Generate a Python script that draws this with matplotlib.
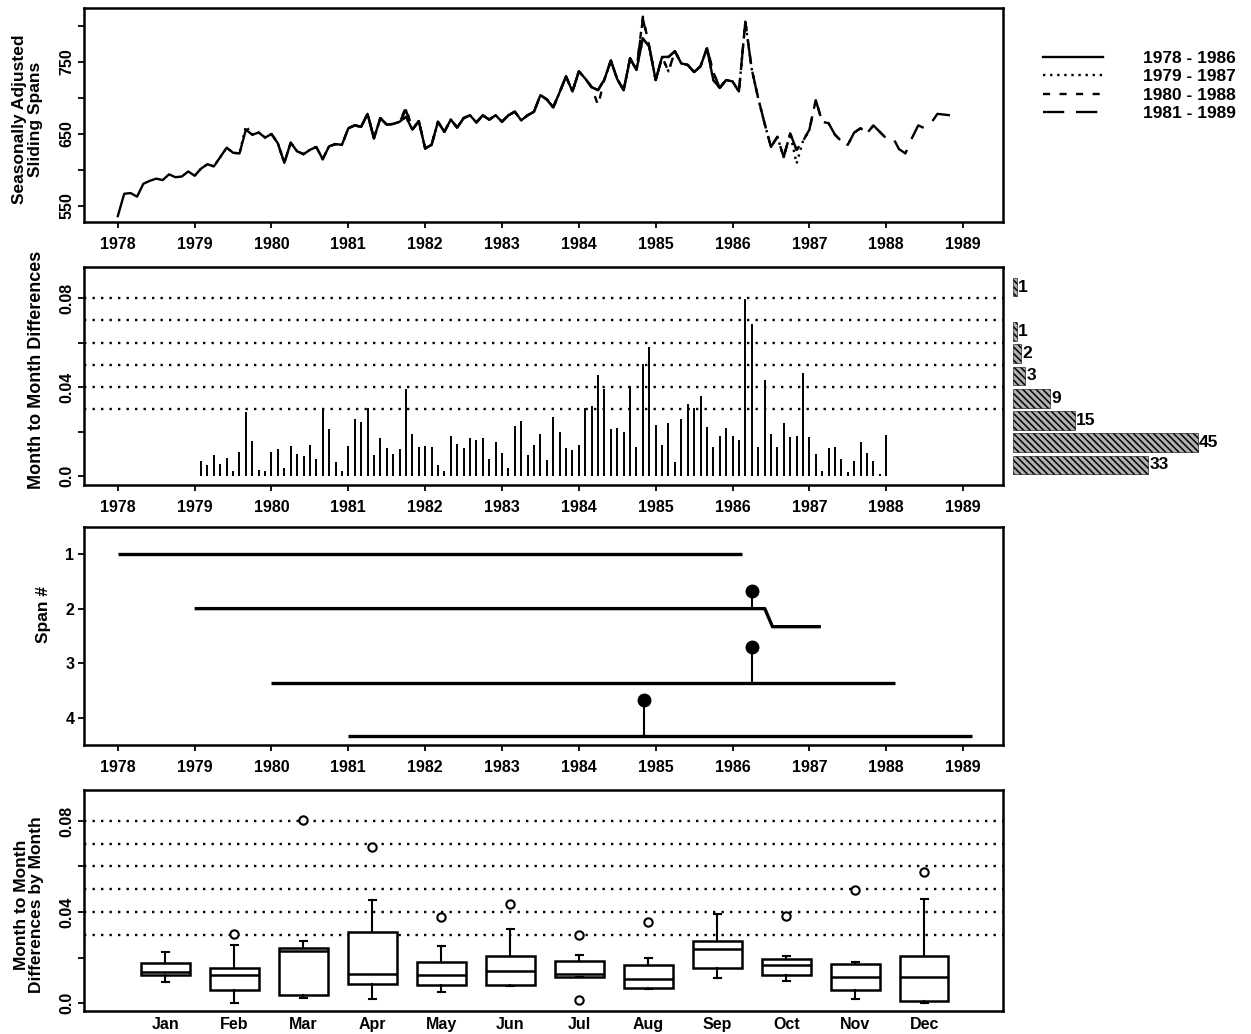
import matplotlib.pyplot as plt
import numpy as np

plt.rcParams['font.family'] = ['Liberation Sans', 'DejaVu Sans']
plt.rcParams['font.weight'] = 'bold'
plt.rcParams['axes.labelweight'] = 'bold'
plt.rcParams['font.size'] = 11.5
plt.rcParams['hatch.linewidth'] = 1.1

# Seasonally adjusted series, monthly from Jan 1978
sa_level = [
    536, 567, 568, 563, 581, 585, 588, 586, 594, 590, 591, 598,   # 1978
    592, 602, 608, 605, 618, 631, 624, 623, 656, 649, 652, 645,   # 1979
    650, 637, 610, 638, 626, 622, 628, 632, 615, 633, 636, 635,   # 1980
    658, 662, 660, 678, 644, 672, 663, 664, 667, 674, 656, 668,   # 1981
    630, 635, 667, 653, 670, 659, 672, 676, 666, 676, 670, 676,   # 1982
    667, 676, 681, 669, 676, 681, 704, 698, 687, 708, 730, 709,   # 1983
    737, 727, 715, 711, 726, 752, 726, 711, 755, 739, 783, 771,   # 1984
    725, 757, 757, 765, 748, 746, 736, 744, 769, 725, 714, 725,   # 1985
    723, 709, 806, 740, 700, 665, 632, 646, 618, 651, 628, 640,   # 1986
    656, 697, 667, 665, 649, 640, 635, 652, 658, 651, 662, 653,   # 1987
    644, 646, 629, 623, 644, 662, 658, 665, 678, 677, 676, 668,   # 1988
]

# the four sliding spans (month index into sa_level) and where they differ
span_labels = ['1978 - 1986', '1979 - 1987', '1980 - 1988', '1981 - 1989']
span_first = [0, 12, 24, 36]
span_last = [96, 108, 120, 131]
span_overrides = [
    {},
    {20: 661, 86: 737, 106: 609},
    {45: 687, 75: 690, 82: 813, 86: 737, 93: 736},
    {45: 683, 82: 810, 93: 736},
]
span_styles = ['-', (0, (1, 2)), (0, (3, 4)), (0, (9, 5))]

# maximum month to month differences, Feb 1979 - Jan 1988
mm_diff = [
    0.0066, 0.0048, 0.0094, 0.0054, 0.0081, 0.0021, 0.0110, 0.0290, 0.0158, 0.0028, 0.0024,
    0.0110, 0.0122, 0.0036, 0.0136, 0.0099, 0.0090, 0.0140, 0.0078, 0.0301, 0.0212, 0.0063, 0.0024,
    0.0136, 0.0257, 0.0245, 0.0307, 0.0096, 0.0170, 0.0128, 0.0099, 0.0122, 0.0390, 0.0190, 0.0133,
    0.0136, 0.0133, 0.0048, 0.0024, 0.0182, 0.0145, 0.0125, 0.0173, 0.0163, 0.0173, 0.0078, 0.0152,
    0.0103, 0.0036, 0.0227, 0.0248, 0.0096, 0.0139, 0.0188, 0.0073, 0.0264, 0.0200, 0.0125, 0.0118,
    0.0140, 0.0307, 0.0316, 0.0454, 0.0390, 0.0210, 0.0218, 0.0200, 0.0404, 0.0129, 0.0503, 0.0582,
    0.0228, 0.0141, 0.0240, 0.0062, 0.0255, 0.0325, 0.0307, 0.0359, 0.0221, 0.0129, 0.0181, 0.0218,
    0.0181, 0.0162, 0.0797, 0.0685, 0.0129, 0.0433, 0.0188, 0.0132, 0.0240, 0.0177, 0.0181, 0.0463,
    0.0175, 0.0099, 0.0025, 0.0126, 0.0132, 0.0077, 0.0018, 0.0070, 0.0154, 0.0104, 0.0070, 0.0010,
    0.0184,
]
ref_levels = [0.03, 0.04, 0.05, 0.06, 0.07, 0.08]

# histogram of the differences, bins of width 0.01 starting at 0
hist_counts = [33, 45, 15, 9, 3, 2, 1, 0, 1]

# span lines and flagged months for the span panel
span_bar_x = [[1978.0, 1986.12], [1979.0, 1986.42, 1986.52, 1987.15],
              [1980.0, 1988.12], [1981.0, 1989.12]]
span_bar_y = [[1, 1], [2, 2, 2.33, 2.33], [3.35, 3.35], [4.33, 4.33]]
flag_x = [1986.25, 1986.25, 1984.85]
flag_base = [2.0, 3.35, 4.33]
flag_top = [1.67, 2.7, 3.67]

# differences grouped by calendar month
month_names = ['Jan', 'Feb', 'Mar', 'Apr', 'May', 'Jun',
               'Jul', 'Aug', 'Sep', 'Oct', 'Nov', 'Dec']
box_med = [0.0136, 0.0122, 0.0229, 0.0129, 0.0122, 0.0139, 0.0126, 0.0107, 0.0239, 0.0166, 0.0114, 0.0114]
box_q1 = [0.0125, 0.0056, 0.0037, 0.0085, 0.0081, 0.0081, 0.0114, 0.0066, 0.0154, 0.0122, 0.0056, 0.0009]
box_q3 = [0.0176, 0.0154, 0.0243, 0.0312, 0.0180, 0.0205, 0.0185, 0.0166, 0.0271, 0.0195, 0.0173, 0.0205]
box_lo = [0.0092, 0.0000, 0.0022, 0.0016, 0.0050, 0.0075, 0.0114, 0.0063, 0.0111, 0.0095, 0.0019, 0.0000]
box_hi = [0.0224, 0.0253, 0.0271, 0.0451, 0.0251, 0.0324, 0.0212, 0.0198, 0.0393, 0.0205, 0.0180, 0.0456]
box_out = [[], [0.0305], [0.0803], [0.0686], [0.0378], [0.0437],
           [0.0300, 0.0015], [0.0356], [], [0.0382], [0.0495], [0.0576]]

W, H = 1251, 1034
fig = plt.figure(figsize=(W / 100, H / 100), dpi=100)


def box(l, t, r, b):
    return [l / W, 1 - b / H, (r - l) / W, (b - t) / H]


ax1 = fig.add_axes(box(84, 8, 1003, 222))
ax2 = fig.add_axes(box(84, 267, 1003, 485))
ax3 = fig.add_axes(box(84, 527, 1003, 745))
ax4 = fig.add_axes(box(84, 790, 1003, 1011))
axh = fig.add_axes(box(1013, 267, 1251, 485))

years = np.arange(1978, 1990)
for ax in (ax1, ax2, ax3, ax4):
    for s in ax.spines.values():
        s.set_linewidth(1.8)
    ax.tick_params(direction='out', length=4, width=1.3, pad=7, labelsize=11.5)
for ax in (ax1, ax2, ax3):
    ax.set_xlim(1977.56, 1989.52)
    ax.set_xticks(years)
    ax.set_xticklabels([str(y) for y in years])

dotted = (0, (1, 2.6))

# top: seasonally adjusted series from each span
t = 1978 + np.arange(len(sa_level)) / 12
for k in range(4):
    vals = np.array(sa_level, dtype=float)
    for m, v in span_overrides[k].items():
        vals[m] = v
    sl = slice(span_first[k], span_last[k] + 1)
    ax1.plot(t[sl], vals[sl], color='black', lw=1.7, ls=span_styles[k],
             label=span_labels[k])
ax1.set_ylim(527.8, 825)
ax1.set_yticks([550, 600, 650, 700, 750, 800])
ax1.set_yticklabels(['550', '', '650', '', '750', ''], rotation=90, va='center')
ax1.tick_params(axis='y', pad=3)
ax1.set_ylabel('Seasonally Adjusted\nSliding Spans', fontsize=12.5, linespacing=1.05)
ax1.yaxis.set_label_coords(-0.045, 0.48)
ax1.legend(loc='upper left', bbox_to_anchor=(1027 / W, 1 - 35 / H),
           bbox_transform=fig.transFigure, frameon=False, handlelength=3.5,
           handletextpad=2.3, labelspacing=0.19, fontsize=12.5)

# second: month to month differences with reference levels
diff_t = 1979 + np.arange(1, len(mm_diff) + 1) / 12
for lev in ref_levels:
    ax2.axhline(lev, color='black', lw=1.7, ls=dotted)
ax2.vlines(diff_t, 0, mm_diff, color='black', lw=1.4)
ax2.set_ylim(-0.004, 0.094)
ax2.set_yticks([0, 0.02, 0.04, 0.06, 0.08])
ax2.set_yticklabels(['0.0', '', '0.04', '', '0.08'], rotation=90, va='center')
ax2.tick_params(axis='y', pad=3)
ax2.set_ylabel('Month to Month Differences', fontsize=13)
ax2.yaxis.set_label_coords(-0.042, 0.53)

# histogram beside the second panel
bin_mid = 0.005 + 0.01 * np.arange(len(hist_counts))
for y, c in zip(bin_mid, hist_counts):
    if c > 0:
        axh.barh(y, c, height=0.0085, color='#b0b0b0', edgecolor='black',
                 hatch='\\\\\\\\\\', lw=0.4)
        axh.text(c + 0.3, y, str(c), va='center', ha='left', fontsize=12.5)
axh.set_ylim(ax2.get_ylim())
axh.set_xlim(0, 58)
axh.axis('off')

# third: span lines with flagged months
for xs, ys in zip(span_bar_x, span_bar_y):
    ax3.plot(xs, ys, color='black', lw=2.4, solid_capstyle='butt')
ax3.vlines(flag_x, flag_top, flag_base, color='black', lw=1.5)
ax3.plot(flag_x, flag_top, 'o', color='black', ms=9)
ax3.set_ylim(4.49, 0.51)
ax3.set_yticks([1, 2, 3, 4])
ax3.tick_params(axis='y', pad=3)
ax3.set_ylabel('Span #', fontsize=12.5)
ax3.yaxis.set_label_coords(-0.036, 0.6)

# bottom: differences by calendar month
for lev in ref_levels:
    ax4.axhline(lev, color='black', lw=1.7, ls=dotted, zorder=1)
stats = []
for i in range(12):
    stats.append(dict(med=box_med[i], q1=box_q1[i], q3=box_q3[i],
                      whislo=box_lo[i], whishi=box_hi[i], fliers=box_out[i]))
ax4.bxp(stats, positions=range(1, 13), widths=0.7, patch_artist=True,
        capwidths=0.1,
        boxprops=dict(facecolor='white', edgecolor='black', lw=1.8),
        medianprops=dict(color='black', lw=1.8),
        whiskerprops=dict(color='black', lw=1.5),
        capprops=dict(color='black', lw=1.5),
        flierprops=dict(marker='o', mfc='white', mec='black', ms=6, mew=1.5),
        zorder=3)
ax4.set_xlim(-0.18, 13.14)
ax4.set_xticks(range(1, 13))
ax4.set_xticklabels(month_names)
ax4.tick_params(axis='x', length=0, pad=4)
ax4.set_ylim(-0.0035, 0.0936)
ax4.set_yticks([0, 0.02, 0.04, 0.06, 0.08])
ax4.set_yticklabels(['0.0', '', '0.04', '', '0.08'], rotation=90, va='center')
ax4.tick_params(axis='y', pad=3)
ax4.set_ylabel('Month to Month\nDifferences by Month', fontsize=12.5, linespacing=1.05)
ax4.yaxis.set_label_coords(-0.043, 0.48)

fig.savefig('out.png', dpi=100)
